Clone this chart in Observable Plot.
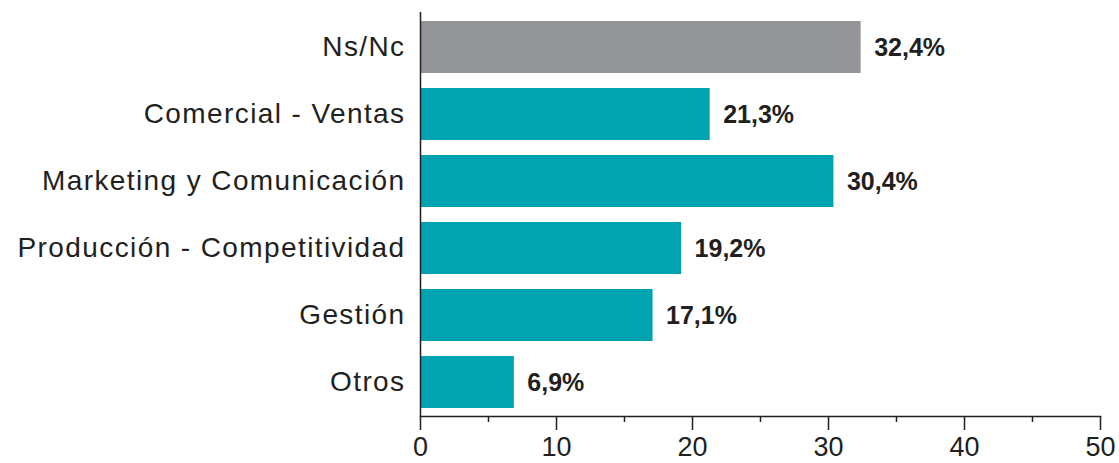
<!DOCTYPE html>
<html><head><meta charset="utf-8">
<script src="https://cdn.jsdelivr.net/npm/d3@7"></script>
<script src="https://cdn.jsdelivr.net/npm/@observablehq/plot@0.6"></script>
<style>body{margin:0;background:#fff;} svg{display:block;}</style>
</head><body><div id="chart"></div>
<script>
const categories = ["Ns/Nc","Comercial - Ventas","Marketing y Comunicación","Producción - Competitividad","Gestión","Otros"];
const values = [32.4, 21.3, 30.4, 19.2, 17.1, 6.9];
const valueLabels = ["32,4%","21,3%","30,4%","19,2%","17,1%","6,9%"];
const groups = ["nc","area","area","area","area","area"];
const majorTicks = [0,10,20,30,40,50];
const minorTicks = [5,15,25,35,45];

const data = categories.map((c,i)=>({cat:c, v:values[i], label:valueLabels[i], g:groups[i]}));
const ink = "#231f20";
const chart = Plot.plot({
  width: 1119, height: 463,
  marginLeft: 420, marginRight: 19, marginTop: 12, marginBottom: 47,
  style: {fontFamily: "Liberation Sans, Arial, sans-serif", color: ink, background: "#fff"},
  x: {domain: [0,50], label: null},
  y: {domain: categories, paddingInner: 0.23, paddingOuter: 0.115, label: null},
  color: {domain: ["nc","area"], range: ["#939598","#00a3b0"]},
  marks: [
    Plot.barX(data, {x: "v", y: "cat", fill: "g"}),
    Plot.text(data, {x: "v", y: "cat", text: "label", textAnchor: "start", dx: 13, fontWeight: "bold", fontSize: 25, fill: ink, style: "letter-spacing:0.3px"}),
    Plot.ruleX([0], {stroke: ink, strokeWidth: 1.5}),
    Plot.frame({anchor: "bottom", stroke: ink, strokeWidth: 1.5}),
    Plot.axisX({ticks: majorTicks, tickSize: 14, tickPadding: 6, fontSize: 27, tickFormat: d=>String(d), stroke: ink, strokeWidth: 1.5}),
    Plot.axisX({ticks: minorTicks, tickSize: 6, tickFormat: ()=>"", stroke: ink, strokeWidth: 1.5}),
    Plot.axisY({tickSize: 0, tickPadding: 15, fontSize: 28})
  ]
});
chart.querySelectorAll("g[aria-label='y-axis tick label'] text").forEach(t => t.style.letterSpacing = "1.4px");
document.getElementById("chart").appendChild(chart);
</script></body></html>
